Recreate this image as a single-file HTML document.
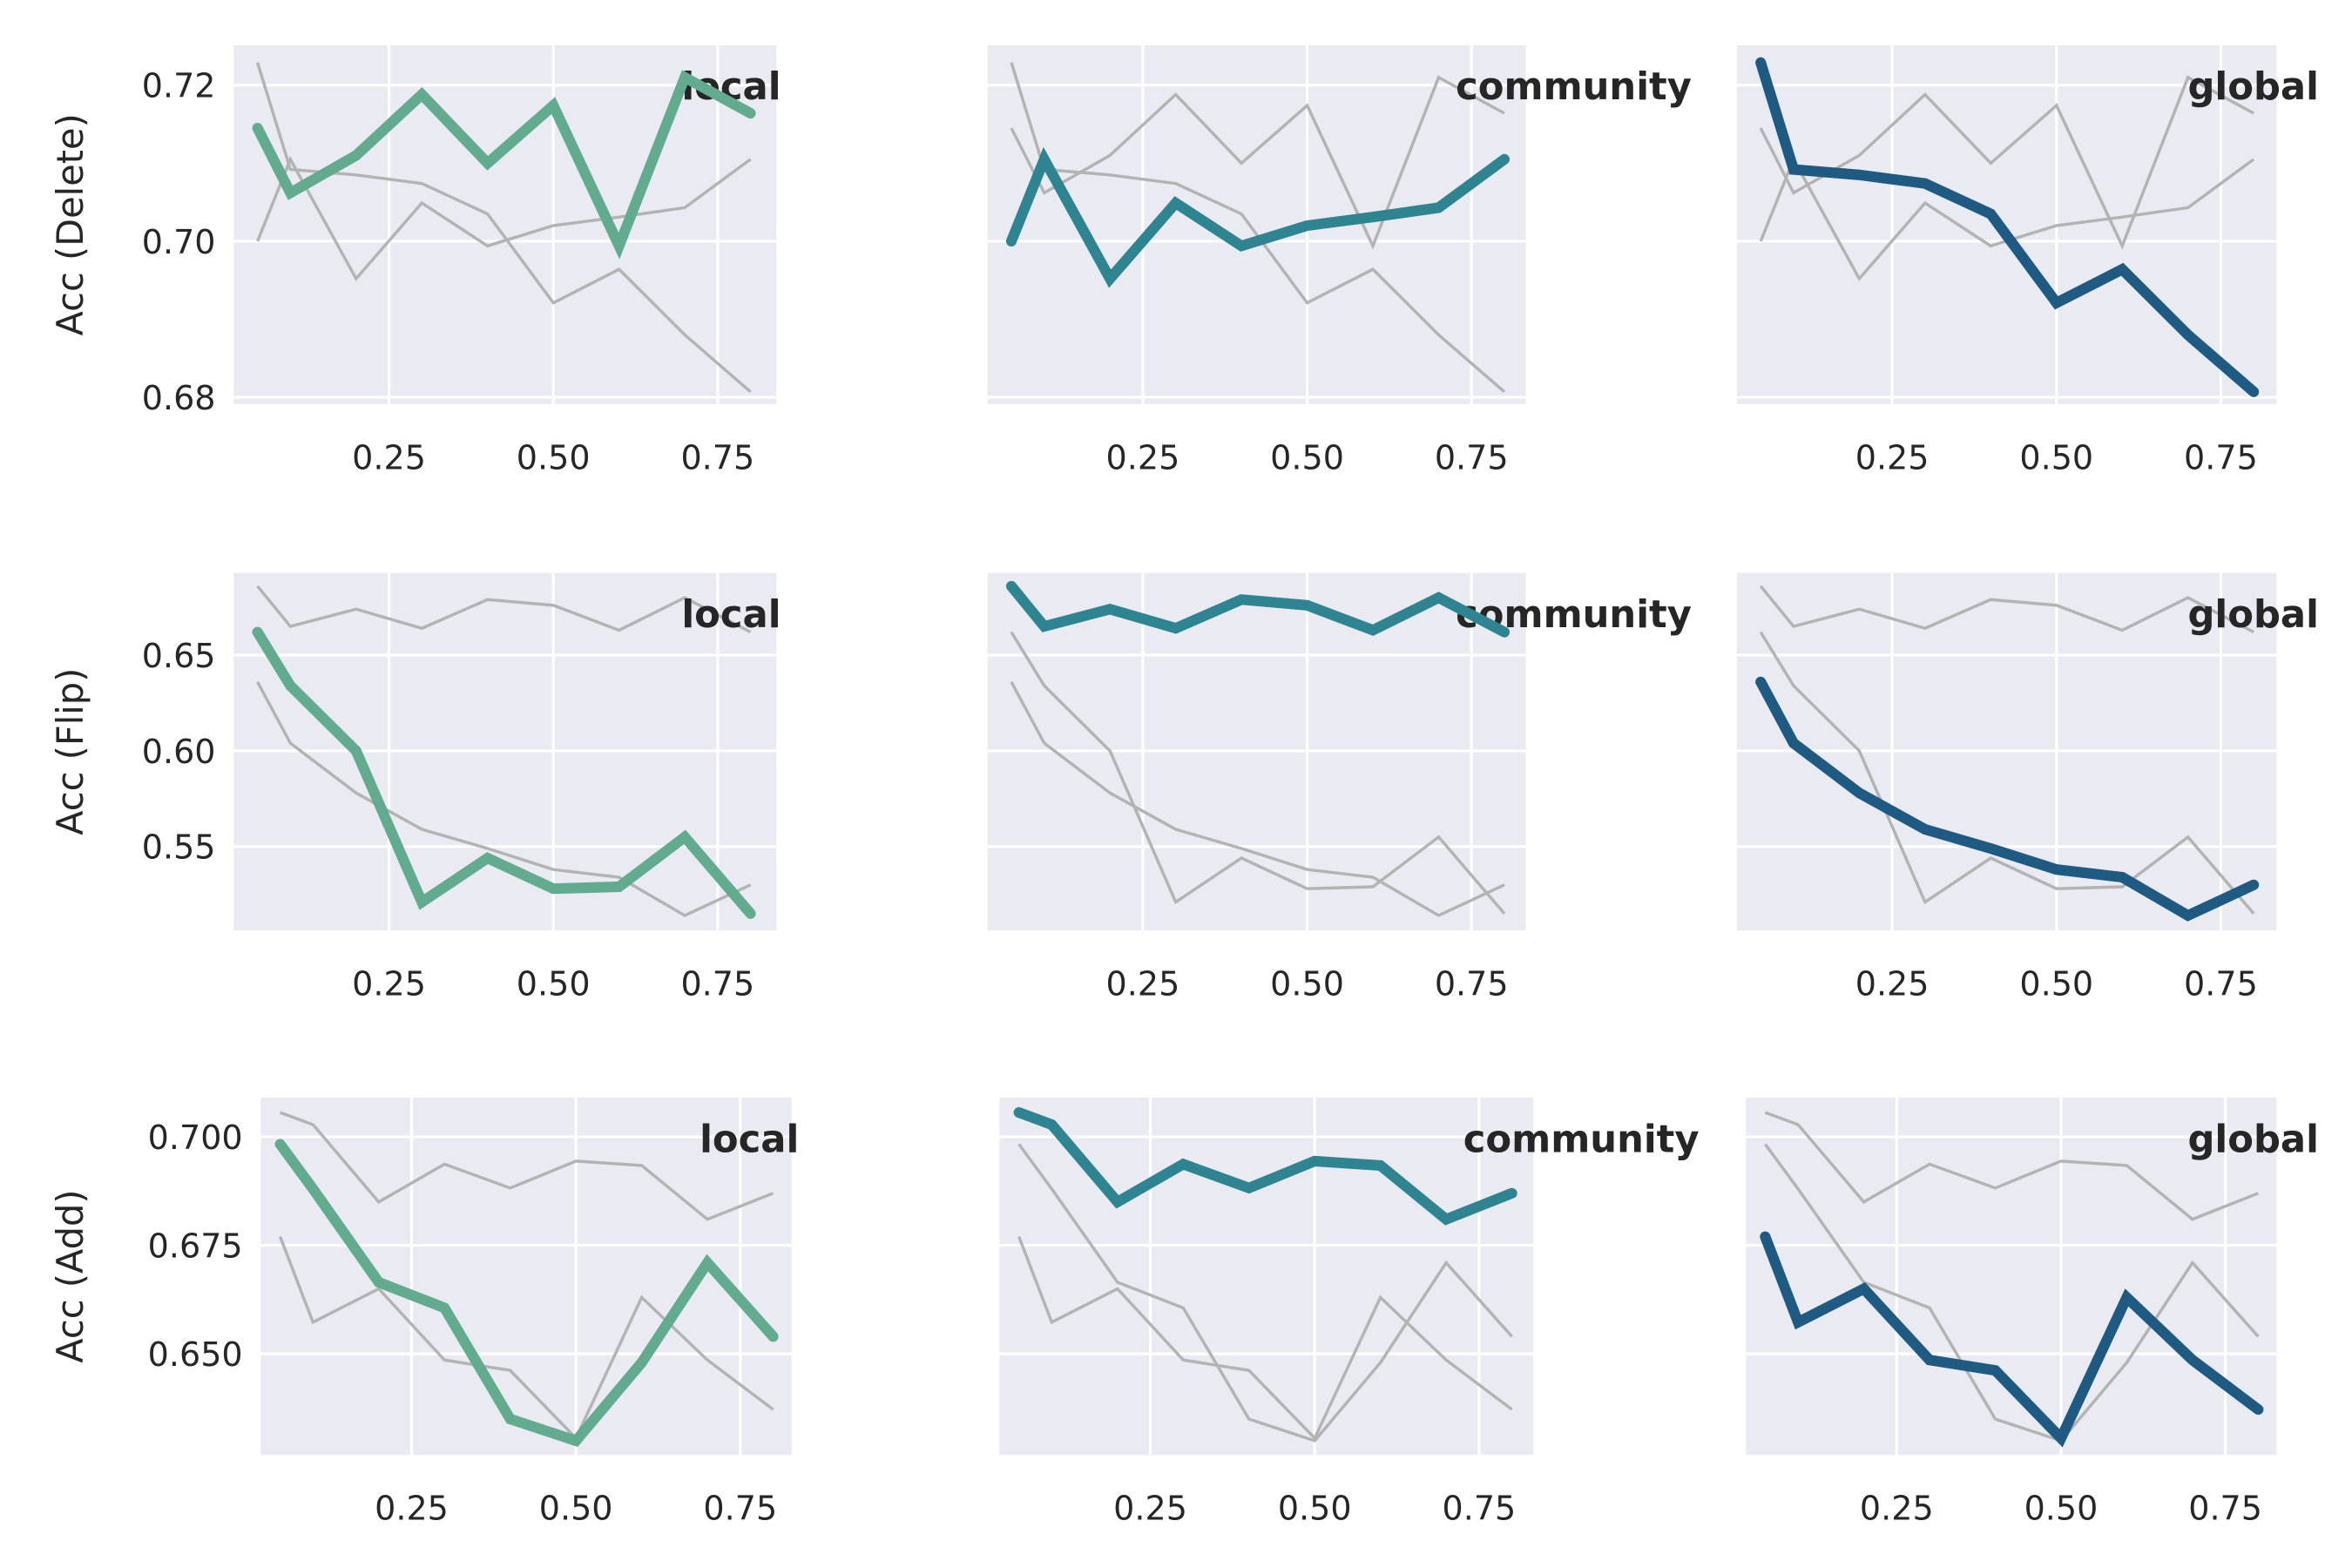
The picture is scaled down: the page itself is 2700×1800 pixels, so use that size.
<!DOCTYPE html>
<html><head><meta charset="utf-8"><style>
html,body{margin:0;padding:0;background:#fff;width:2700px;height:1800px;overflow:hidden}
svg text{font-family:"DejaVu Sans","Liberation Sans",sans-serif;fill:#262626}
</style></head><body>
<svg id="chart" width="2700" height="1800" viewBox="0 0 1560 1040" xmlns="http://www.w3.org/2000/svg"></svg>
<script>
const xs = [0.05,0.1,0.2,0.3,0.4,0.5,0.6,0.7,0.8];
const seriesNames = ['local','community','global'];
const rowLabels = ['Acc (Delete)','Acc (Flip)','Acc (Add)'];
const deleteLocal = [0.7145,0.7062,0.711,0.7188,0.710,0.7174,0.6994,0.721,0.7164];
const deleteCommunity = [0.700,0.7105,0.6952,0.7049,0.6994,0.702,0.7031,0.7043,0.7105];
const deleteGlobal = [0.7229,0.7092,0.7085,0.7074,0.7035,0.6921,0.6964,0.688,0.6807];
const flipLocal = [0.662,0.634,0.600,0.521,0.544,0.528,0.529,0.555,0.515];
const flipCommunity = [0.686,0.665,0.674,0.664,0.679,0.676,0.663,0.680,0.662];
const flipGlobal = [0.636,0.604,0.578,0.559,0.549,0.538,0.534,0.514,0.530];
const addLocal = [0.6983,0.688,0.6665,0.6606,0.635,0.630,0.648,0.671,0.654];
const addCommunity = [0.7056,0.7028,0.685,0.6937,0.6882,0.6944,0.6934,0.681,0.687];
const addGlobal = [0.677,0.6573,0.665,0.6486,0.6462,0.6306,0.663,0.6486,0.6372];
const xTicks = [0.25,0.5,0.75];
const xTickLabels = ['0.25','0.50','0.75'];
const deleteTicks = [0.68,0.70,0.72];
const deleteTickLabels = ['0.68','0.70','0.72'];
const flipTicks = [0.55,0.60,0.65];
const flipTickLabels = ['0.55','0.60','0.65'];
const addTicks = [0.650,0.675,0.700];
const addTickLabels = ['0.650','0.675','0.700'];

const rowData = [[deleteLocal,deleteCommunity,deleteGlobal],[flipLocal,flipCommunity,flipGlobal],[addLocal,addCommunity,addGlobal]];
const rowTicks = [deleteTicks,flipTicks,addTicks];
const rowTickLabels = [deleteTickLabels,flipTickLabels,addTickLabels];
const colors = ['#63ab8f','#2e8490','#1e5a82'];
const rowTop = [30,380,728], rowBot = [268,617,965];
const colLeft = [[155,655,1152],[155,655,1152],[173,663,1158]];
const colRight = [[515,1012,1510],[515,1012,1510],[525,1017,1510]];
const tickOff = [103,103,100];
const labelEnd = [[518,1122,1538],[518,1122,1538],[530,1127,1538]];
const yRef = [[0.70,160,103.5/0.02],[0.60,498,63.5/0.05],[0.70,754,72/0.025]];

const svg = document.getElementById('chart');
const NS='http://www.w3.org/2000/svg';
function mk(tag, attrs, parent){const e=document.createElementNS(NS,tag);for(const k in attrs)e.setAttribute(k,attrs[k]);(parent||svg).appendChild(e);return e;}

for(let r=0;r<3;r++){
  const yScale = v => yRef[r][1] - (v - yRef[r][0]) * yRef[r][2];
  for(let c=0;c<3;c++){
    const L=colLeft[r][c], R=colRight[r][c], T=rowTop[r], B=rowBot[r];
    const xScale = v => L + tickOff[r] + (v-0.25)*436;
    const g = mk('g',{});
    
    
    const bg = mk('rect',{x:L,y:T,width:R-L,height:B-T,fill:'#eaeaf2'},g);
    
    
    xTicks.forEach((t,i)=>{
      const x=xScale(t);
      const gl=mk('line',{x1:x,x2:x,y1:T,y2:B,stroke:'#fff','stroke-width':1.8},g);
      
      
      const tl=mk('text',{x:x,y:B+43,'text-anchor':'middle','font-size':22},g);
      tl.textContent=xTickLabels[i];
      
      
    });
    rowTicks[r].forEach((t,i)=>{
      const y=yScale(t);
      if(y<T||y>B) return;
      const gl=mk('line',{x1:L,x2:R,y1:y,y2:y,stroke:'#fff','stroke-width':1.8},g);
      
      
      if(c===0){
        const tl=mk('text',{x:L-12,y:y+8,'text-anchor':'end','font-size':22},g);
        tl.textContent=rowTickLabels[r][i];
        
        
      }
    });
    for(let s=0;s<3;s++){
      if(s===c) continue;
      const p=mk('polyline',{points:xs.map((x,i)=>xScale(x)+','+yScale(rowData[r][s][i])).join(' '),fill:'none',stroke:'#b3b3b3','stroke-width':2},g);
      
      
    }
    const lab=mk('text',{x:labelEnd[r][c],y:T+36,'text-anchor':'end','font-size':25,'font-weight':'bold'},g);
    lab.textContent=seriesNames[c];
    
    
    const p=mk('polyline',{points:xs.map((x,i)=>xScale(x)+','+yScale(rowData[r][c][i])).join(' '),fill:'none',stroke:colors[c],'stroke-width':7,'stroke-linecap':'round','stroke-linejoin':'miter'},g);
    
    
  }
  const cy=(rowTop[r]+rowBot[r])/2;
  const yl=mk('text',{x:0,y:0,transform:'translate(55,'+cy+') rotate(-90)','text-anchor':'middle','font-size':24});
  yl.textContent=rowLabels[r];
  
  
}
</script>
</body></html>
